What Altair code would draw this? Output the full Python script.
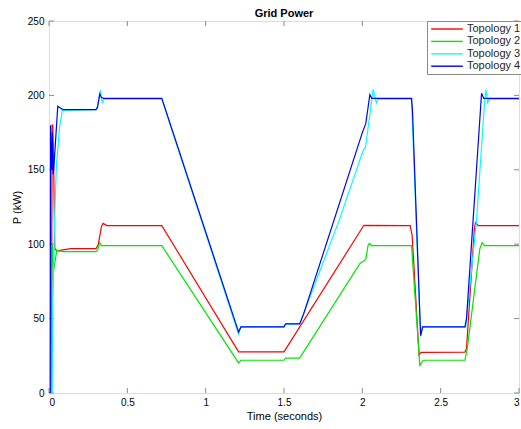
import altair as alt
import pandas as pd

# ---- data ----
series_names = ["Topology 1", "Topology 2", "Topology 3", "Topology 4"]
series_colors = ["#ff0000", "#00e600", "#00ffff", "#0000ff"]

t1 = [0, 0.015, 0.02, 0.024, 0.03, 0.037, 0.05, 0.08, 0.14, 0.3, 0.315, 0.335, 0.345, 0.37,
      0.72, 1.21, 1.5, 2.01, 2.305, 2.318, 2.362, 2.375, 2.655, 2.665, 2.715, 2.722, 2.74, 3.0]
p1 = [0, 0, 180, 180, 150, 97, 95.5, 96, 97, 97, 100, 112, 114, 112.5,
      112.5, 27.6, 27.6, 112.7, 112.5, 106, 25.5, 27.3, 27.5, 30, 110, 114.5, 112.5, 112.5]

t2 = [0, 0.015, 0.02, 0.03, 0.05, 0.06, 0.09, 0.3, 0.31, 0.324, 0.335, 0.72, 1.21, 1.225,
      1.5, 1.51, 1.6, 1.985, 2.022, 2.037, 2.046, 2.06, 2.314, 2.367, 2.385, 2.4, 2.655,
      2.67, 2.75, 2.765, 2.78, 3.0]
p2 = [0, 0, 100, 82.6, 96, 95.5, 95, 95, 96, 101, 99, 99, 20.2, 22,
      22, 23.5, 23.5, 87, 89.8, 99.4, 100.5, 99, 99, 18.6, 21.5, 22, 22,
      30, 97, 101, 99, 99]

t3 = [0, 0.015, 0.02, 0.025, 0.036, 0.047, 0.068, 0.085, 0.3, 0.31, 0.328, 0.34, 0.35,
      0.72, 1.21, 1.225, 1.5, 1.51, 1.6, 1.852, 2.005, 2.02, 2.058, 2.069, 2.09, 2.1,
      2.314, 2.372, 2.385, 2.66, 2.729, 2.78, 2.789, 2.8, 2.81, 3.0]
p3 = [0, 0, 0, 60, 118, 152, 179, 190, 190.5, 193, 203.4, 194.7, 197.5,
      197.5, 39.5, 44.4, 44.4, 46.4, 46.4, 116, 163, 165, 195, 204, 195, 197.5,
      197.5, 38, 44.4, 44.4, 116, 195, 204, 195, 197.5, 197.5]

t4 = [0, 0.008, 0.01, 0.018, 0.022, 0.026, 0.03, 0.056, 0.064, 0.09, 0.3, 0.31, 0.324,
      0.335, 0.35, 0.72, 1.21, 1.225, 1.5, 1.51, 1.6, 1.625, 2.0, 2.022, 2.048, 2.06,
      2.314, 2.32, 2.372, 2.385, 2.655, 2.665, 2.761, 2.775, 3.0]
p4 = [0, 0, 180, 150, 175, 147, 150, 192.7, 192, 190.5, 190.5, 192, 201,
      198.5, 198, 198, 41, 44.4, 44.4, 46.4, 46.4, 53, 175, 181, 200.5, 198,
      198, 190, 38.5, 44.4, 44.4, 50, 201.5, 198, 198]

x_ticks = [0, 0.5, 1, 1.5, 2, 2.5, 3]
y_ticks = [0, 50, 100, 150, 200, 250]

# ---- build tables ----
rows = []
for name, ts, ps in zip(series_names, [t1, t2, t3, t4], [p1, p2, p3, p4]):
    for i, (t, p) in enumerate(zip(ts, ps)):
        rows.append({"series": name, "t": t, "p": p, "idx": i})
df = pd.DataFrame(rows)

W, H = 470, 372
axis_gray = "#8a8a8a"
txt = "#262626"
font = "Liberation Sans"

xscale = alt.Scale(domain=[0, 3], nice=False, zero=False)
yscale = alt.Scale(domain=[0, 250], nice=False, zero=False)

lines = alt.Chart(df).mark_line(strokeWidth=1.2, clip=True).encode(
    x=alt.X("t:Q", scale=xscale,
            axis=alt.Axis(title="Time (seconds)", values=x_ticks, format="~g",
                          grid=False, ticks=False, domain=False, labelPadding=4,
                          titlePadding=3, titleFontWeight=400)),
    y=alt.Y("p:Q", scale=yscale,
            axis=alt.Axis(title="P (kW)", values=y_ticks, grid=False, ticks=False,
                          domain=False, labelPadding=5, titlePadding=5,
                          titleFontWeight=400)),
    color=alt.Color("series:N",
                    scale=alt.Scale(domain=series_names, range=series_colors),
                    legend=alt.Legend(title=None, orient="none", legendX=378, legendY=0,
                                      symbolType="M-3.16,0H3.16", symbolSize=100,
                                      symbolStrokeWidth=1.4, symbolOffset=12,
                                      labelOffset=14, rowPadding=1.4, padding=2,
                                      labelFontSize=11, labelColor=txt, labelFont=font,
                                      strokeColor=axis_gray, fillColor="white")),
    order="idx:Q",
)

xt = pd.DataFrame({"v": x_ticks})
yt = pd.DataFrame({"v": y_ticks})
tick_len = 5
bottom_ticks = alt.Chart(xt).mark_rule(color=axis_gray, strokeWidth=1).encode(
    x=alt.X("v:Q", scale=xscale), y=alt.value(H), y2=alt.value(H - tick_len))
top_ticks = alt.Chart(xt).mark_rule(color=axis_gray, strokeWidth=1).encode(
    x=alt.X("v:Q", scale=xscale), y=alt.value(0), y2=alt.value(tick_len))
left_ticks = alt.Chart(yt).mark_rule(color=axis_gray, strokeWidth=1).encode(
    y=alt.Y("v:Q", scale=yscale), x=alt.value(0), x2=alt.value(tick_len))
right_ticks = alt.Chart(yt).mark_rule(color=axis_gray, strokeWidth=1).encode(
    y=alt.Y("v:Q", scale=yscale), x=alt.value(W), x2=alt.value(W - tick_len))

chart = alt.layer(bottom_ticks, top_ticks, left_ticks, right_ticks, lines).properties(
    width=W, height=H,
    title=alt.TitleParams("Grid Power", fontSize=11, fontWeight="bold", font=font,
                          color="black", offset=4, dy=7, anchor="middle", frame="group"),
    autosize=alt.AutoSizeParams(type="none"),
    padding={"left": 49, "top": 21, "right": 2, "bottom": 36},
).configure_view(
    stroke=axis_gray, strokeWidth=1
).configure_axis(
    labelFont=font, titleFont=font, labelFontSize=11, titleFontSize=11,
    labelColor=txt, titleColor=txt, titleFontWeight=400
).configure(background="white")

chart.save("out.html", embed_options={"renderer": "svg", "actions": False})
